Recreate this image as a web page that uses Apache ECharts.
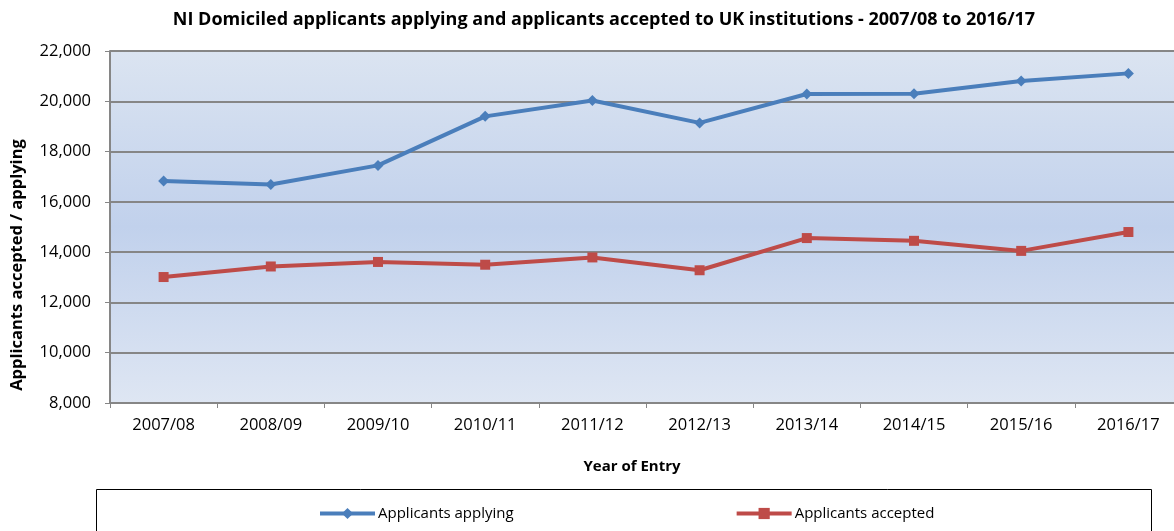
<!DOCTYPE html>
<html>
<head>
<meta charset="utf-8">
<script src="https://cdn.jsdelivr.net/npm/echarts@6/dist/echarts.min.js"></script>
<style>
  html, body { margin: 0; padding: 0; background: #fff; }
  #chart { width: 1174px; height: 531px; }
</style>
</head>
<body>
<div id="chart"></div>
<script>
const years = ['2007/08', '2008/09', '2009/10', '2010/11', '2011/12', '2012/13', '2013/14', '2014/15', '2015/16', '2016/17']
const applying = [16830, 16690, 17450, 19400, 20030, 19140, 20290, 20300, 20810, 21110]
const accepted = [13010, 13430, 13610, 13500, 13790, 13280, 14560, 14450, 14050, 14800]
const yTicks = { min: 8000, max: 22000, step: 2000 }

const font = 'Open Sans, Noto Sans, sans-serif'
const chart = echarts.init(document.getElementById('chart'))

chart.setOption({
  backgroundColor: '#fff',
  animation: false,
  title: {
    text: 'NI Domiciled applicants applying and applicants accepted to UK institutions - 2007/08 to 2016/17',
    left: 599,
    textAlign: 'center',
    top: 6,
    textStyle: { fontFamily: font, fontSize: 18, fontWeight: 'bold', color: '#000' }
  },
  grid: {
    left: 110,
    top: 51,
    right: -8,
    bottom: 128,
    outerBoundsMode: 'none',
    show: true,
    borderWidth: 0,
    backgroundColor: new echarts.graphic.LinearGradient(0, 0, 0, 1, [
      { offset: 0, color: '#dbe4f1' },
      { offset: 0.5, color: '#c1d1ec' },
      { offset: 1, color: '#dee6f3' }
    ])
  },
  legend: {
    left: 318,
    top: 506,
    padding: 0,
    itemWidth: 55,
    itemHeight: 14,
    itemGap: 221,
    lineStyle: { width: 4 },
    textStyle: { fontFamily: font, fontSize: 15, color: '#000', padding: [0, 0, 0, -2] },
    data: ['Applicants applying', 'Applicants accepted']
  },
  graphic: [
    {
      type: 'rect',
      shape: { x: 96.5, y: 489.5, width: 1055, height: 60 },
      style: { fill: 'none', stroke: '#000', lineWidth: 1 }
    },
    {
      type: 'text',
      x: 17,
      y: 265,
      rotation: Math.PI / 2,
      style: {
        text: 'Applicants accepted / applying',
        fontFamily: font, fontSize: 16.5, fontWeight: 'bold', fill: '#000',
        align: 'center', verticalAlign: 'middle'
      }
    }
  ],
  xAxis: {
    type: 'category',
    data: years,
    boundaryGap: true,
    name: 'Year of Entry',
    nameLocation: 'middle',
    nameGap: 56,
    nameTextStyle: { fontFamily: font, fontSize: 15, fontWeight: 'bold', color: '#000', padding: [0, 28, 0, 0] },
    axisLine: { lineStyle: { color: '#868686', width: 2 } },
    axisTick: { show: true, length: 5, lineStyle: { color: '#868686', width: 1 } },
    axisLabel: { fontFamily: font, fontSize: 16.5, color: '#000', margin: 14 },
    splitLine: { show: false }
  },
  yAxis: {
    type: 'value',
    min: yTicks.min,
    max: yTicks.max,
    interval: yTicks.step,
    axisLine: { show: true, lineStyle: { color: '#868686', width: 2 } },
    axisTick: { show: true, length: 5, lineStyle: { color: '#868686', width: 1 } },
    axisLabel: {
      fontFamily: font, fontSize: 16.5, color: '#000', margin: 19,
      formatter: v => v.toLocaleString('en-US')
    },
    splitLine: { lineStyle: { color: '#868686', width: 2 } }
  },
  series: [
    {
      name: 'Applicants applying',
      type: 'line',
      data: applying,
      symbol: 'diamond',
      symbolSize: 11,
      lineStyle: { color: '#4a7ebb', width: 4 },
      itemStyle: { color: '#4a7ebb' }
    },
    {
      name: 'Applicants accepted',
      type: 'line',
      data: accepted,
      symbol: 'rect',
      symbolSize: 10,
      lineStyle: { color: '#be4b48', width: 4 },
      itemStyle: { color: '#be4b48' }
    }
  ]
})
</script>
</body>
</html>
